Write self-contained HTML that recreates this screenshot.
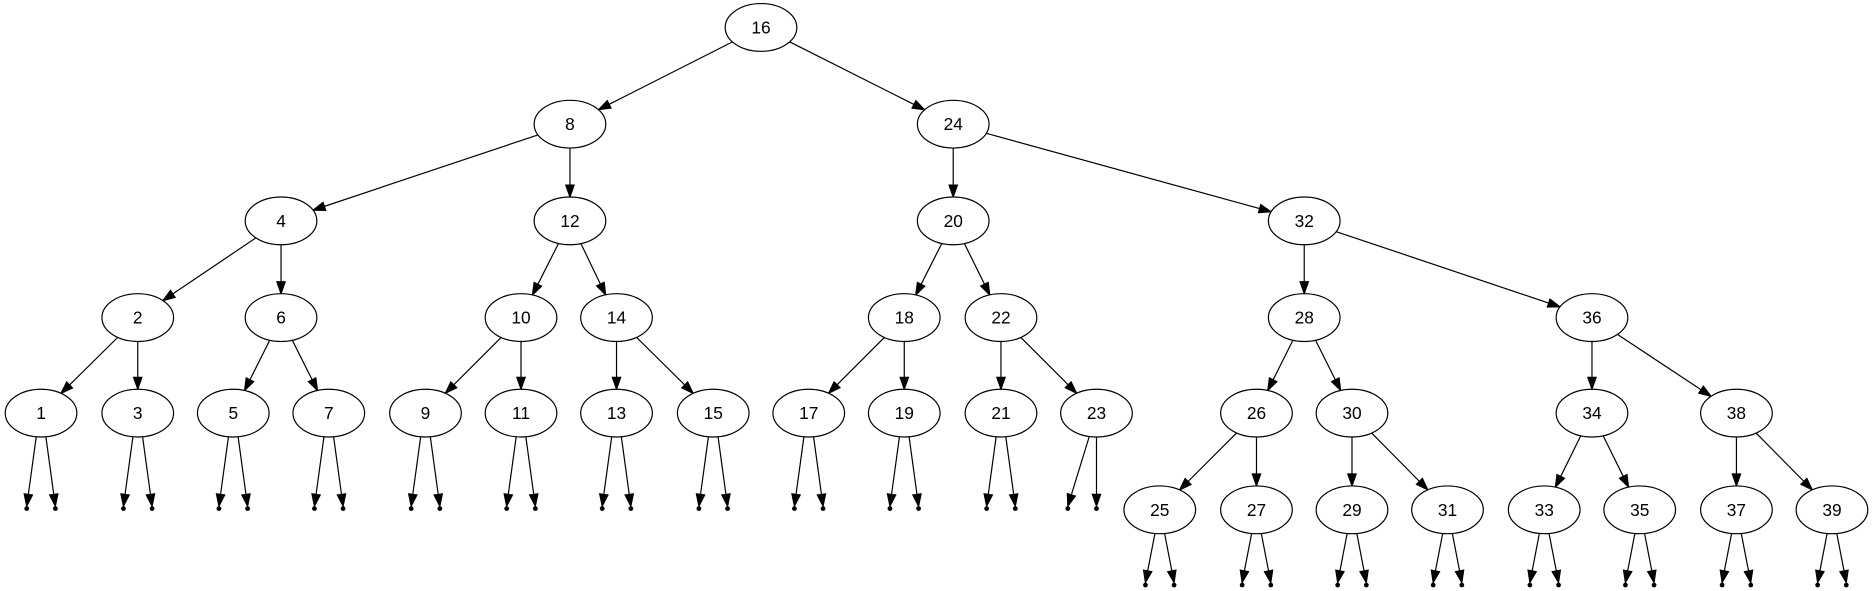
<!DOCTYPE html>
<html><head><meta charset="utf-8"><style>
html,body{margin:0;padding:0;background:#fff;}
svg{display:block}
text{font-family:"Liberation Sans",sans-serif;font-size:14.5px;text-anchor:middle;dominant-baseline:central;fill:#000}
</style></head><body>
<svg id="s" width="1873" height="591" viewBox="0 0 1568 495" xmlns="http://www.w3.org/2000/svg">
<g id="edges" stroke="#000" stroke-width="1" fill="#000"></g>
<g fill="#fff" stroke="#000" stroke-width="1">
<ellipse cx="637" cy="23" rx="30" ry="20"/>
<ellipse cx="477" cy="104" rx="30" ry="20"/><ellipse cx="798" cy="104" rx="30" ry="20"/>
<ellipse cx="235" cy="185" rx="30" ry="20"/><ellipse cx="477" cy="185" rx="30" ry="20"/><ellipse cx="798" cy="185" rx="30" ry="20"/><ellipse cx="1092" cy="185" rx="30" ry="20"/>
<ellipse cx="115" cy="266" rx="30" ry="20"/><ellipse cx="235" cy="266" rx="30" ry="20"/><ellipse cx="436" cy="266" rx="30" ry="20"/><ellipse cx="516" cy="266" rx="30" ry="20"/><ellipse cx="757" cy="266" rx="30" ry="20"/><ellipse cx="838" cy="266" rx="30" ry="20"/><ellipse cx="1092" cy="266" rx="30" ry="20"/><ellipse cx="1333" cy="266" rx="30" ry="20"/>
<ellipse cx="34" cy="346" rx="30" ry="20"/><ellipse cx="115" cy="346" rx="30" ry="20"/><ellipse cx="195" cy="346" rx="30" ry="20"/><ellipse cx="275" cy="346" rx="30" ry="20"/><ellipse cx="356" cy="346" rx="30" ry="20"/><ellipse cx="436" cy="346" rx="30" ry="20"/><ellipse cx="516" cy="346" rx="30" ry="20"/><ellipse cx="597" cy="346" rx="30" ry="20"/><ellipse cx="677" cy="346" rx="30" ry="20"/><ellipse cx="757" cy="346" rx="30" ry="20"/><ellipse cx="838" cy="346" rx="30" ry="20"/><ellipse cx="918" cy="346" rx="30" ry="20"/><ellipse cx="1052" cy="346" rx="30" ry="20"/><ellipse cx="1132" cy="346" rx="30" ry="20"/><ellipse cx="1333" cy="346" rx="30" ry="20"/><ellipse cx="1454" cy="346" rx="30" ry="20"/>
<ellipse cx="971" cy="427" rx="30" ry="20"/><ellipse cx="1052" cy="427" rx="30" ry="20"/><ellipse cx="1132" cy="427" rx="30" ry="20"/><ellipse cx="1212" cy="427" rx="30" ry="20"/><ellipse cx="1293" cy="427" rx="30" ry="20"/><ellipse cx="1373" cy="427" rx="30" ry="20"/><ellipse cx="1454" cy="427" rx="30" ry="20"/><ellipse cx="1534" cy="427" rx="30" ry="20"/>
</g>
<g>
<text x="637" y="23">16</text>
<text x="477" y="104">8</text><text x="798" y="104">24</text>
<text x="235" y="185">4</text><text x="477" y="185">12</text><text x="798" y="185">20</text><text x="1092" y="185">32</text>
<text x="115" y="266">2</text><text x="235" y="266">6</text><text x="436" y="266">10</text><text x="516" y="266">14</text><text x="757" y="266">18</text><text x="838" y="266">22</text><text x="1092" y="266">28</text><text x="1333" y="266">36</text>
<text x="34" y="346">1</text><text x="115" y="346">3</text><text x="195" y="346">5</text><text x="275" y="346">7</text><text x="356" y="346">9</text><text x="436" y="346">11</text><text x="516" y="346">13</text><text x="597" y="346">15</text><text x="677" y="346">17</text><text x="757" y="346">19</text><text x="838" y="346">21</text><text x="918" y="346">23</text><text x="1052" y="346">26</text><text x="1132" y="346">30</text><text x="1333" y="346">34</text><text x="1454" y="346">38</text>
<text x="971" y="427">25</text><text x="1052" y="427">27</text><text x="1132" y="427">29</text><text x="1212" y="427">31</text><text x="1293" y="427">33</text><text x="1373" y="427">35</text><text x="1454" y="427">37</text><text x="1534" y="427">39</text>
</g>
</svg>
<script>
(function(){
var N={16:[637,23],8:[477,104],24:[798,104],4:[235,185],12:[477,185],20:[798,185],32:[1092,185],
2:[115,266],6:[235,266],10:[436,266],14:[516,266],18:[757,266],22:[838,266],28:[1092,266],36:[1333,266],
1:[34,346],3:[115,346],5:[195,346],7:[275,346],9:[356,346],11:[436,346],13:[516,346],15:[597,346],17:[677,346],19:[757,346],21:[838,346],23:[918,346],26:[1052,346],30:[1132,346],34:[1333,346],38:[1454,346],
25:[971,427],27:[1052,427],29:[1132,427],31:[1212,427],33:[1293,427],35:[1373,427],37:[1454,427],39:[1534,427]};
var E=[[16,8],[16,24],[8,4],[8,12],[24,20],[24,32],[4,2],[4,6],[12,10],[12,14],[20,18],[20,22],[32,28],[32,36],
[2,1],[2,3],[6,5],[6,7],[10,9],[10,11],[14,13],[14,15],[18,17],[18,19],[22,21],[22,23],[28,26],[28,30],[36,34],[36,38],
[26,25],[26,27],[30,29],[30,31],[34,33],[34,35],[38,37],[38,39]];
var g=document.getElementById('edges'),h='';
function bd(c,dx,dy){var t=1/Math.sqrt(dx*dx/900+dy*dy/400);return [c[0]+dx*t,c[1]+dy*t];}
function arrow(x1,y1,x2,y2){var dx=x2-x1,dy=y2-y1,L=Math.sqrt(dx*dx+dy*dy),ux=dx/L,uy=dy/L;
var bx=x2-ux*10,by=y2-uy*10,px=-uy*3.5,py=ux*3.5;
h+='<line x1="'+x1+'" y1="'+y1+'" x2="'+bx+'" y2="'+by+'"/>';
h+='<polygon points="'+x2+','+y2+' '+(bx+px)+','+(by+py)+' '+(bx-px)+','+(by-py)+'"/>';}
E.forEach(function(e){var a=N[e[0]],b=N[e[1]],dx=b[0]-a[0],dy=b[1]-a[1];
var s=bd(a,dx,dy),t=bd(b,-dx,-dy);arrow(s[0],s[1],t[0],t[1]);});
var leaves=[1,3,5,7,9,11,13,15,17,19,21,25,27,29,31,33,35,37,39];
leaves.forEach(function(k){var c=N[k],py=(c[1]>400)?490:426;
[[-12,-4],[12,4]].forEach(function(o){var px=c[0]+o[0];var sx=c[0]+o[1],sy=c[1]+19.5;
arrow(sx,sy,px,py-2);h+='<circle cx="'+px+'" cy="'+py+'" r="2" stroke="none"/>';});});
var c=N[23];
[[894,-6],[918,0]].forEach(function(o){var px=o[0],py=426,sx=c[0]+o[1],sy=c[1]+19.5;
if(o[1]==0)sy=c[1]+20;arrow(sx,sy,px,py-2);h+='<circle cx="'+px+'" cy="'+py+'" r="2" stroke="none"/>';});
g.innerHTML=h;
})();
</script>
</body></html>
